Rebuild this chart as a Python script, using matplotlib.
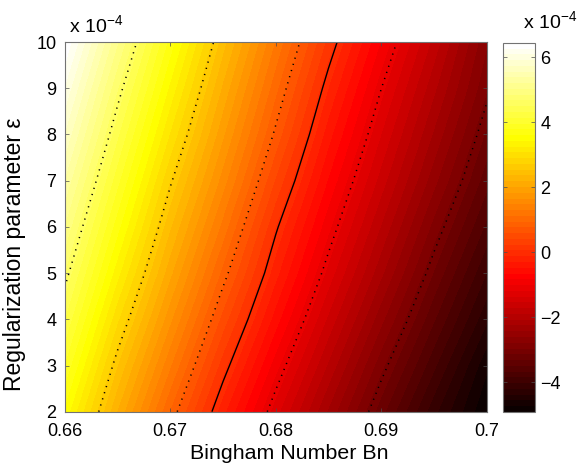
import numpy as np
import matplotlib
matplotlib.use('Agg')
import matplotlib.pyplot as plt
from matplotlib.colors import ListedColormap

plt.rcParams['font.family'] = ['Liberation Sans', 'DejaVu Sans']
plt.rcParams['mathtext.fontset'] = 'custom'
plt.rcParams['mathtext.rm'] = 'Liberation Sans'
plt.rcParams['mathtext.it'] = 'Liberation Sans:italic'

# ---- data (values and epsilon in units of 1e-4) ----
bn = [0.66, 0.665, 0.67, 0.675, 0.68, 0.685, 0.69, 0.695, 0.70]
eps = [2, 3, 4, 5, 6, 7, 8, 9, 10]
val_eps2 = [3.556, 2.172, 0.925, -0.245, -1.291, -2.280, -3.247, -4.147, -4.910]
val_eps3 = [3.946, 2.538, 1.317, 0.132, -0.935, -1.928, -2.906, -3.807, -4.697]
val_eps4 = [4.315, 2.927, 1.692, 0.513, -0.570, -1.583, -2.552, -3.472, -4.347]
val_eps5 = [4.665, 3.313, 2.053, 0.880, -0.236, -1.253, -2.210, -3.155, -4.030]
val_eps6 = [5.009, 3.671, 2.383, 1.226, 0.048, -0.962, -1.912, -2.851, -3.717]
val_eps7 = [5.363, 4.016, 2.708, 1.561, 0.386, -0.677, -1.624, -2.545, -3.427]
val_eps8 = [5.725, 4.350, 3.052, 1.862, 0.714, -0.404, -1.366, -2.280, -3.178]
val_eps9 = [6.075, 4.685, 3.380, 2.146, 0.994, -0.127, -1.119, -2.030, -2.940]
val_eps10 = [6.450, 5.044, 3.709, 2.438, 1.276, 0.167, -0.848, -1.782, -2.759]

xticks = [0.66, 0.67, 0.68, 0.69, 0.70]
xticklabels = ['0.66', '0.67', '0.68', '0.69', '0.7']
yticks = [2, 3, 4, 5, 6, 7, 8, 9, 10]
cticks = [-4, -2, 0, 2, 4, 6]

Z = np.array([val_eps2, val_eps3, val_eps4, val_eps5, val_eps6,
              val_eps7, val_eps8, val_eps9, val_eps10])
X, Y = np.meshgrid(bn, eps)
zmin, zmax = Z.min(), Z.max()

# matlab style hot(64)
n = 64
n1 = 24
r = np.r_[np.arange(1, n1 + 1) / n1, np.ones(n - n1)]
g = np.r_[np.zeros(n1), np.arange(1, n1 + 1) / n1, np.ones(n - 2 * n1)]
b = np.r_[np.zeros(2 * n1), np.arange(1, n - 2 * n1 + 1) / (n - 2 * n1)]
hot64 = ListedColormap(np.c_[r, g, b])

fig = plt.figure(figsize=(5.81, 4.65), dpi=100)
ax = fig.add_axes([0.1114, 0.1146, 0.7263, 0.795])
cax = fig.add_axes([0.8657, 0.1140, 0.0551, 0.794])

fill_levels = np.linspace(zmin, zmax, n + 1)
cf = ax.contourf(X, Y, Z, levels=fill_levels, cmap=hot64, vmin=zmin, vmax=zmax)

# dotted contour lines (matlab auto levels) + solid zero line
line_levels = np.linspace(zmin, zmax, 7)[1:-1]
ax.contour(X, Y, Z, levels=line_levels, colors='k', linewidths=1.1,
           linestyles=[(0, (0.8, 3.4))])
ax.contour(X, Y, Z, levels=[0], colors='k', linewidths=1.0)

ax.set_xlim(0.66, 0.70)
ax.set_ylim(2, 10)
ax.set_xticks(xticks)
ax.set_xticklabels(xticklabels)
ax.set_yticks(yticks)
ax.tick_params(direction='in', length=3, width=0.5, labelsize=13, color='0.3',
               top=True, right=True)
ax.tick_params(axis='x', pad=8)
ax.tick_params(axis='y', pad=6)
for s in ax.spines.values():
    s.set_color('0.45')
    s.set_linewidth(0.8)

ax.set_xlabel('Bingham Number Bn', fontsize=15.4)
ax.xaxis.set_label_coords(0.533, -0.088)
ax.set_ylabel('Regularization parameter ε', fontsize=16.5)
ax.yaxis.set_label_coords(-0.091, 0.425)
fig.text(0.1188, 0.931, r'x 10$^{-4}$', fontsize=14, va='baseline')

cb = fig.colorbar(cf, cax=cax, ticks=cticks)
cb.outline.set_edgecolor('0.45')
cb.outline.set_linewidth(0.8)
cax.tick_params(direction='in', length=3, width=0.5, labelsize=13, color='0.3',
                left=True, right=True, pad=4)
fig.text(0.900, 0.940, r'x 10$^{-4}$', fontsize=14, va='baseline')

fig.savefig('out.png', dpi=100)
